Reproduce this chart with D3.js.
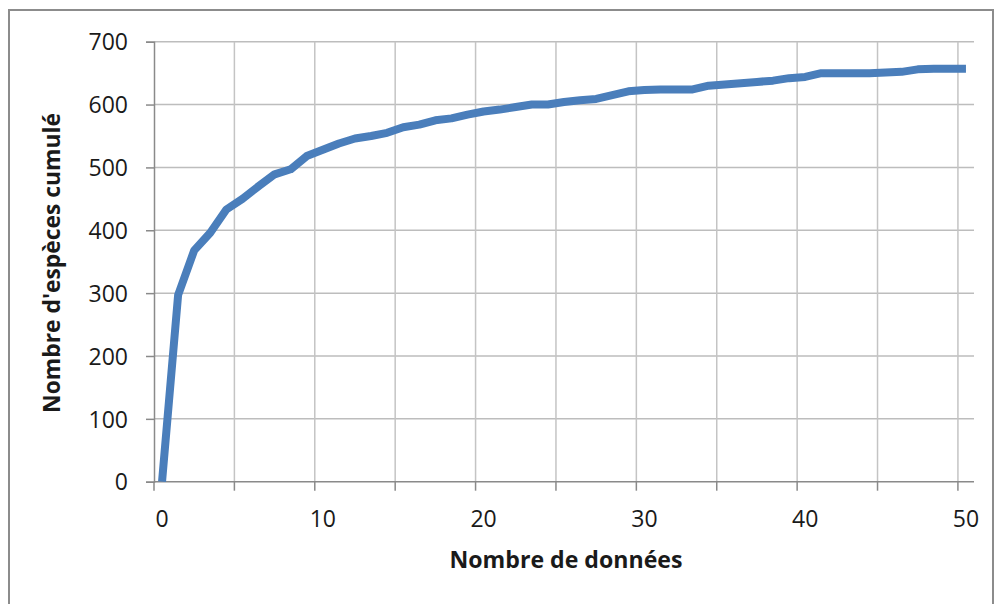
<!DOCTYPE html>
<html>
<head>
<meta charset="utf-8">
<script src="https://cdn.jsdelivr.net/npm/d3@7"></script>
<style>
  html, body { margin: 0; padding: 0; background: #fff; }
  svg { display: block; }
  text { font-family: "Open Sans", "Liberation Sans", sans-serif; fill: #1a1a1a; }
</style>
</head>
<body>
<svg id="chart" width="995" height="604"></svg>
<script>
// ---- data ----
const categories = d3.range(0, 51); // Nombre de données: 0 .. 50
const cumulativeSpecies = [0, 297, 368, 396, 433, 450, 470, 489, 497, 518,
  528, 538, 546, 550, 555, 564, 568, 575, 578, 584,
  589, 592, 596, 600, 600, 604, 607, 609, 615, 621,
  623, 624, 624, 624, 630, 632, 634, 636, 638, 642,
  644, 650, 650, 650, 650, 651, 652, 656, 657, 657, 657];
const yTicks = [0, 100, 200, 300, 400, 500, 600, 700];
const xTickLabels = [0, 10, 20, 30, 40, 50];
const xGridEvery = 5;
const xTitle = "Nombre de données";
const yTitle = "Nombre d'espèces cumulé";

// ---- layout ----
const svg = d3.select("#chart");
const plot = { left: 154, right: 974, top: 41.7, bottom: 481.7 };

// outer frame
svg.append("rect")
  .attr("x", 9).attr("y", 10).attr("width", 984).attr("height", 640)
  .attr("fill", "none").attr("stroke", "#8c8c8c").attr("stroke-width", 2);

const x = d3.scaleBand().domain(categories).range([plot.left, plot.right]).padding(0);
const y = d3.scaleLinear().domain([0, 700]).range([plot.bottom, plot.top]);
const xc = d => x(d) + x.bandwidth() / 2;

// horizontal gridlines
svg.append("g").selectAll("line").data(yTicks.filter(v => v > 0)).join("line")
  .attr("x1", plot.left).attr("x2", plot.right)
  .attr("y1", d => y(d)).attr("y2", d => y(d))
  .attr("stroke", "#bdbdbd").attr("stroke-width", 1.5);

// vertical gridlines at category boundaries every 5
const boundaries = categories.filter(c => c % xGridEvery === 0);
svg.append("g").selectAll("line").data(boundaries.filter(c => c > 0)).join("line")
  .attr("x1", d => x(d)).attr("x2", d => x(d))
  .attr("y1", plot.top).attr("y2", plot.bottom)
  .attr("stroke", "#c4c4c4").attr("stroke-width", 1.5);

// y axis
const yAxis = svg.append("g").attr("transform", `translate(${plot.left},0)`)
  .call(d3.axisLeft(y).tickValues(yTicks).tickSize(8).tickPadding(18).tickFormat(d3.format("d")));
yAxis.select(".domain").attr("stroke", "#8a8a8a").attr("stroke-width", 1.5);
yAxis.selectAll(".tick line").attr("stroke", "#8a8a8a").attr("stroke-width", 1.5);
yAxis.selectAll(".tick text").attr("font-size", 23).attr("font-family", "Open Sans").attr("fill", "#1a1a1a").attr("dy", "0.36em");

// x axis (category axis)
const xAxisG = svg.append("g").attr("transform", `translate(0,${plot.bottom})`);
xAxisG.append("line").attr("x1", plot.left).attr("x2", plot.right).attr("y1", 0).attr("y2", 0)
  .attr("stroke", "#8a8a8a").attr("stroke-width", 1.5);
xAxisG.selectAll("line.tk").data(boundaries).join("line").attr("class", "tk")
  .attr("x1", d => x(d)).attr("x2", d => x(d)).attr("y1", 0).attr("y2", 9)
  .attr("stroke", "#8a8a8a").attr("stroke-width", 1.5);
xAxisG.selectAll("text").data(xTickLabels).join("text")
  .attr("x", d => xc(d)).attr("y", 45)
  .attr("text-anchor", "middle").attr("font-size", 23).text(d => d);

// series line
const line = d3.line().x((d, i) => xc(categories[i])).y(d => y(d));
svg.append("path").datum(cumulativeSpecies)
  .attr("d", line)
  .attr("fill", "none").attr("stroke", "#4a7ebb").attr("stroke-width", 8)
  .attr("stroke-linejoin", "round").attr("stroke-linecap", "butt");

// titles
function fitText(sel, target) {
  const len = sel.node().getComputedTextLength();
  const fs = parseFloat(sel.attr("font-size"));
  sel.attr("font-size", fs * target / len);
}
const xt = svg.append("text").attr("x", 566).attr("y", 568)
  .attr("text-anchor", "middle").attr("font-weight", "bold").attr("font-size", 21).text(xTitle);
fitText(xt, 233);
const yt = svg.append("text").attr("transform", "translate(60,263) rotate(-90)")
  .attr("text-anchor", "middle").attr("font-weight", "bold").attr("font-size", 21).text(yTitle);
fitText(yt, 300);
</script>
</body>
</html>
